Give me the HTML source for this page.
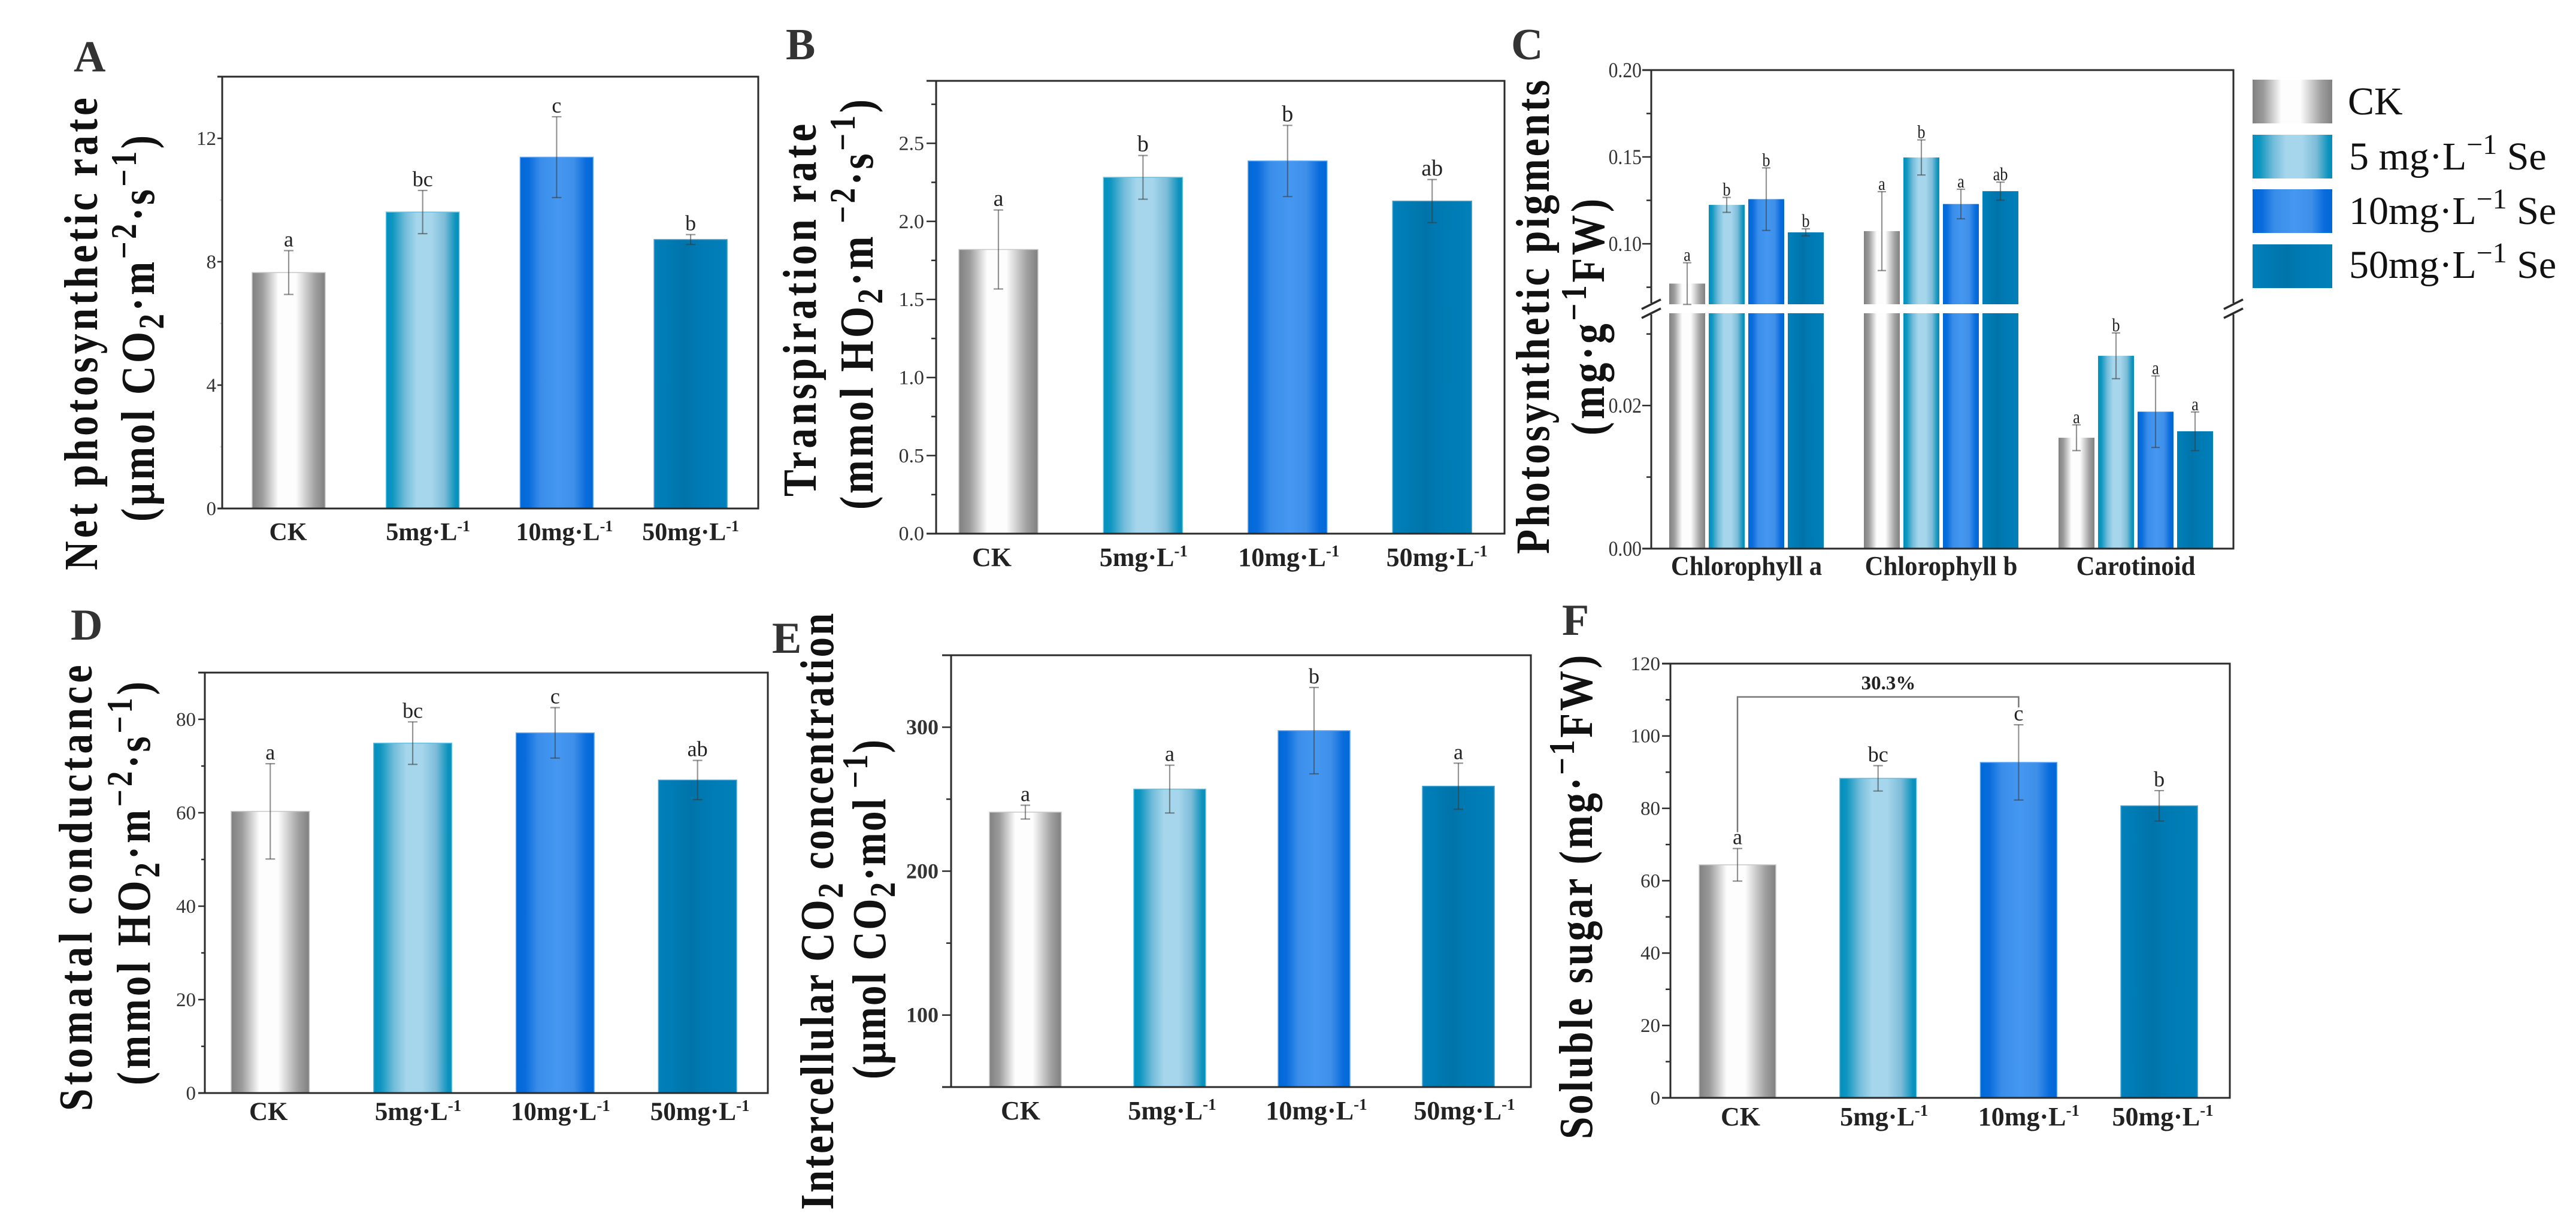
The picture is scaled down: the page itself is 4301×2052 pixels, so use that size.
<!DOCTYPE html>
<html lang="en">
<head>
<meta charset="utf-8">
<title>Selenium effects on photosynthesis</title>
<style>
html,body{margin:0;padding:0;background:#fff}
svg{display:block}
text{font-family:"Liberation Serif",serif}
.t{font-weight:bold;font-size:79px;fill:#111}
.p{font-weight:bold;font-size:74px;fill:#333}
.l{font-size:66px;fill:#111}
</style>
</head>
<body>
<svg id="fig" xmlns="http://www.w3.org/2000/svg" width="4301" height="2052" viewBox="0 0 4301 2052">
<defs>
<linearGradient id="g0"><stop offset="0" stop-color="#808080"/><stop offset=".14" stop-color="#9c9c9c"/><stop offset=".36" stop-color="#fdfdfd"/><stop offset=".6" stop-color="#fdfdfd"/><stop offset=".86" stop-color="#a0a0a0"/><stop offset="1" stop-color="#808080"/></linearGradient>
<linearGradient id="g1"><stop offset="0" stop-color="#0090bf"/><stop offset=".09" stop-color="#0e96c0"/><stop offset=".26" stop-color="#72bcda"/><stop offset=".42" stop-color="#a6d6ec"/><stop offset=".62" stop-color="#a6d6ec"/><stop offset=".8" stop-color="#7dbcd8"/><stop offset=".95" stop-color="#0d93bd"/><stop offset="1" stop-color="#0090bd"/></linearGradient>
<linearGradient id="g2"><stop offset="0" stop-color="#0068d8"/><stop offset=".12" stop-color="#0a6cdc"/><stop offset=".28" stop-color="#3a8eea"/><stop offset=".52" stop-color="#4597f0"/><stop offset=".74" stop-color="#3d8fe8"/><stop offset=".9" stop-color="#0a6cdc"/><stop offset="1" stop-color="#0068d8"/></linearGradient>
<linearGradient id="g3"><stop offset="0" stop-color="#0180ba"/><stop offset=".42" stop-color="#0074aa"/><stop offset=".58" stop-color="#0079b2"/><stop offset="1" stop-color="#0180ba"/></linearGradient>
</defs>
<rect width="4301" height="2052" fill="#fff"/>

<text class="p" x="123" y="119">A</text>
<text class="p" x="1312" y="99">B</text>
<text class="p" x="2523" y="99">C</text>
<text class="p" x="118" y="1068">D</text>
<text class="p" x="1289" y="1090">E</text>
<text class="p" x="2608" y="1060">F</text>

<text class="t" transform="translate(162,952) rotate(-90) scale(.85,1)" textLength="928" lengthAdjust="spacing">Net photosynthetic rate</text>
<text class="t" transform="translate(257,871) rotate(-90) scale(.85,1)" textLength="759" lengthAdjust="spacing">(μmol CO<tspan dy="16" font-size="60">2</tspan><tspan dy="-16">·m</tspan><tspan dy="-30" font-size="60">−2</tspan><tspan dy="30">·s</tspan><tspan dy="-30" font-size="60">−1</tspan><tspan dy="30">)</tspan></text>

<text class="t" transform="translate(1362,829) rotate(-90) scale(.85,1)" textLength="732" lengthAdjust="spacing">Transpiration rate</text>
<text class="t" transform="translate(1457,851) rotate(-90) scale(.85,1)" textLength="806" lengthAdjust="spacing">(mmol HO<tspan dy="16" font-size="60">2</tspan><tspan dy="-16">·m</tspan><tspan dy="-30" font-size="60"> −2</tspan><tspan dy="30">·s</tspan><tspan dy="-30" font-size="60">−1</tspan><tspan dy="30">)</tspan></text>

<text class="t" transform="translate(2586,925) rotate(-90) scale(.85,1)" textLength="931" lengthAdjust="spacing">Photosynthetic pigments</text>
<text class="t" transform="translate(2678,727) rotate(-90) scale(.85,1)" textLength="465" lengthAdjust="spacing">(mg·g<tspan dy="-30" font-size="60">−1</tspan><tspan dy="30">FW)</tspan></text>

<text class="t" transform="translate(153,1855) rotate(-90) scale(.85,1)" textLength="876" lengthAdjust="spacing">Stomatal conductance</text>
<text class="t" transform="translate(250,1812) rotate(-90) scale(.85,1)" textLength="793" lengthAdjust="spacing">(mmol HO<tspan dy="16" font-size="60">2</tspan><tspan dy="-16">·m</tspan><tspan dy="-30" font-size="60">−2</tspan><tspan dy="30">·s</tspan><tspan dy="-30" font-size="60">−1</tspan><tspan dy="30">)</tspan></text>

<text class="t" transform="translate(1391,2020) rotate(-90) scale(.85,1)" textLength="1172" lengthAdjust="spacing">Intercellular  CO<tspan dy="16" font-size="60">2</tspan><tspan dy="-16"> concentration</tspan></text>
<text class="t" transform="translate(1478,1802) rotate(-90) scale(.85,1)" textLength="667" lengthAdjust="spacing">(μmol CO<tspan dy="16" font-size="60">2</tspan><tspan dy="-16">·mol</tspan><tspan dy="-30" font-size="60"> −1</tspan><tspan dy="30">)</tspan></text>

<text class="t" transform="translate(2658,1902) rotate(-90) scale(.85,1)" textLength="951" lengthAdjust="spacing">Soluble sugar (mg·<tspan dy="-30" font-size="60">−1</tspan><tspan dy="30">FW)</tspan></text>

<g id="legend">
<rect x="3761" y="133" width="133" height="73" fill="url(#g0)"/>
<rect x="3761" y="225" width="133" height="73" fill="url(#g1)"/>
<rect x="3761" y="316" width="133" height="73" fill="url(#g2)"/>
<rect x="3761" y="408" width="133" height="73" fill="url(#g3)"/>
<text class="l" x="3920" y="191">CK</text>
<text class="l" x="3922" y="283">5 mg·L<tspan dy="-26" font-size="48">−1</tspan><tspan dy="26"> Se</tspan></text>
<text class="l" x="3922" y="374">10mg·L<tspan dy="-26" font-size="48">−1</tspan><tspan dy="26"> Se</tspan></text>
<text class="l" x="3922" y="464">50mg·L<tspan dy="-26" font-size="48">−1</tspan><tspan dy="26"> Se</tspan></text>
</g>
</svg>

<script>
const doseLabels = ['CK', '5mg·L', '10mg·L', '50mg·L'];

const aValues = [7.65, 9.61, 11.39, 8.72];
const aErrors = [0.71, 0.70, 1.31, 0.16];
const aLetters = ['a', 'bc', 'c', 'b'];
const aTicks = [0, 4, 8, 12];

const bValues = [1.82, 2.282, 2.387, 2.13];
const bErrors = [0.253, 0.14, 0.228, 0.138];
const bLetters = ['a', 'b', 'b', 'ab'];
const bTicks = ['0.0', '0.5', '1.0', '1.5', '2.0', '2.5'];

const dValues = [60.3, 74.9, 77.1, 67];
const dErrors = [10.2, 4.55, 5.4, 4.2];
const dLetters = ['a', 'bc', 'c', 'ab'];
const dTicks = [0, 20, 40, 60, 80];

const eValues = [241, 257, 297.6, 259];
const eErrors = [4.8, 16.6, 30, 16];
const eLetters = ['a', 'a', 'b', 'a'];
const eTicks = [100, 200, 300];

const fValues = [64.4, 88.3, 92.7, 80.7];
const fErrors = [4.5, 3.5, 10.4, 4.2];
const fLetters = ['a', 'bc', 'c', 'b'];
const fTicks = [0, 20, 40, 60, 80, 100, 120];

const pigmentCategories = ['Chlorophyll a', 'Chlorophyll b', 'Carotinoid'];
const chlAValues = [0.0771, 0.1224, 0.1257, 0.1066];
const chlAErrors = [0.012, 0.0043, 0.018, 0.002];
const chlALetters = ['a', 'b', 'b', 'b'];
const chlBValues = [0.1073, 0.1497, 0.1229, 0.1303];
const chlBErrors = [0.0227, 0.0101, 0.0085, 0.0052];
const chlBLetters = ['a', 'b', 'a', 'ab'];
const carValues = [0.0155, 0.02695, 0.01914, 0.0164];
const carErrors = [0.0018, 0.0032, 0.005, 0.0027];
const carLetters = ['a', 'b', 'a', 'a'];
const cTicks = ['0.00', '0.02', '0.10', '0.15', '0.20'];

const svg = document.getElementById('fig');
const NS = 'http://www.w3.org/2000/svg';
const axisColor = '#2b2b2b';
const outline = ['#c8c8c8', '#62c0de', '#62a8f6', '#4aa2d0'];

function mk(parent, tag, attrs) {
  const el = document.createElementNS(NS, tag);
  for (const k in attrs) el.setAttribute(k, attrs[k]);
  parent.appendChild(el);
  return el;
}

function axisLine(parent, x1, y1, x2, y2, w, name) {
  const el = mk(parent, 'line', {x1, y1, x2, y2, stroke: axisColor, 'stroke-width': w});
  
  
  return el;
}

function label(parent, x, y, size, str, anchor, weight, fill, name, sx) {
  const k = sx || 1;
  const el = mk(parent, 'text', {
    transform: 'translate(' + x + ',' + y + ') scale(' + k + ',1)',
    'font-size': size, 'text-anchor': anchor, 'font-weight': weight, fill
  });
  el.textContent = str;
  
  
  return el;
}

function doseLabel(parent, cx, y, size, str, fill) {
  const el = mk(parent, 'text', {x: cx, y, 'font-size': size, 'text-anchor': 'middle', 'font-weight': 'bold', fill});
  el.appendChild(document.createTextNode(str));
  
  
  if (str !== 'CK') {
    const s = mk(el, 'tspan', {dy: -Math.round(size * 0.36), 'font-size': Math.round(size * 0.62)});
    s.textContent = '-1';
  }
  return el;
}

function errorBar(parent, cx, yHi, yLo, cap) {
  const g = mk(parent, 'g', {stroke: '#3a3a3a', 'stroke-opacity': 0.55, 'stroke-width': 2.2, fill: 'none'});
  
  
  mk(g, 'line', {x1: cx, y1: yHi, x2: cx, y2: yLo});
  mk(g, 'line', {x1: cx - cap, y1: yHi, x2: cx + cap, y2: yHi});
  mk(g, 'line', {x1: cx - cap, y1: yLo, x2: cx + cap, y2: yLo});
}

function drawBarPanel(o) {
  const g = mk(svg, 'g', {});
  
  
  const y = v => o.bottom - (v - o.yMin) / (o.yMax - o.yMin) * (o.bottom - o.top);

  o.values.forEach((v, i) => {
    const x = o.barStart + i * o.barStep;
    const bar = mk(g, 'rect', {x, y: y(v), width: o.barWidth, height: o.bottom - y(v), fill: 'url(#g' + i + ')', stroke: outline[i], 'stroke-width': 1.5});
    
    
  });

  axisLine(g, o.left - o.majorLen, o.top, o.right + 1.5, o.top, o.axisW, 'top-axis');
  axisLine(g, o.left - o.majorLen, o.bottom, o.right + 1.5, o.bottom, o.axisW, 'x-axis');
  axisLine(g, o.left, o.top, o.left, o.bottom, o.axisW, 'y-axis');
  axisLine(g, o.right, o.top, o.right, o.bottom, o.axisW, 'right-axis');

  o.ticks.forEach(t => {
    const n = parseFloat(t);
    axisLine(g, o.left - o.majorLen, y(n), o.left, y(n), 2.5, 'y-tick');
    label(g, o.labelRight, y(n) + o.tickSize * 0.33, o.tickSize, String(t), 'end', o.tickWeight, '#333', 'y-tick-label');
  });
  for (let m = o.yMin + o.minorOffset; m < o.yMax; m += o.minorStep) {
    const el = axisLine(g, o.left - o.minorLen, y(m), o.left, y(m), 2.5, 'y-minor-tick');
    el.setAttribute('stroke-opacity', o.minorOpacity);
  }

  o.values.forEach((v, i) => {
    const cx = o.barStart + i * o.barStep + o.barWidth / 2;
    const e = o.errors[i];
    errorBar(g, cx, y(v + e), y(v - e), 8);
    label(g, cx, y(v + e) - 7, o.letterSize, o.letters[i], 'middle', 'normal', '#222', 'significance-letter');
    doseLabel(g, cx + o.labelShift[i], o.labelY, o.labelSize, doseLabels[i], '#222');
  });
  return {g, y};
}

drawBarPanel({id: 'a', values: aValues, errors: aErrors, letters: aLetters, ticks: aTicks,
  left: 371, right: 1266, top: 128, bottom: 849, yMin: 0, yMax: 14,
  barStart: 421, barStep: 223.7, barWidth: 122, majorLen: 8, minorLen: 4, minorStep: 4, minorOffset: 2, minorOpacity: 0.15,
  axisW: 3, labelRight: 361, tickSize: 33, tickWeight: 'normal', letterSize: 36, labelY: 902, labelSize: 42, labelShift: [-1, 9, 13, 0]});

drawBarPanel({id: 'b', values: bValues, errors: bErrors, letters: bLetters, ticks: bTicks,
  left: 1563, right: 2512, top: 135, bottom: 891, yMin: 0, yMax: 2.9,
  barStart: 1601, barStep: 241.4, barWidth: 132, majorLen: 16, minorLen: 8, minorStep: 0.5, minorOffset: 0.25, minorOpacity: 1,
  axisW: 3, labelRight: 1543, tickSize: 34, tickWeight: 'normal', letterSize: 38, labelY: 945, labelSize: 44, labelShift: [-11, 1, 2, 8]});

drawBarPanel({id: 'd', values: dValues, errors: dErrors, letters: dLetters, ticks: dTicks,
  left: 342, right: 1282, top: 1123, bottom: 1825, yMin: 0, yMax: 90,
  barStart: 386, barStep: 237.8, barWidth: 130.5, majorLen: 11, minorLen: 6, minorStep: 20, minorOffset: 10, minorOpacity: 1,
  axisW: 3, labelRight: 327, tickSize: 33, tickWeight: 'normal', letterSize: 36, labelY: 1870, labelSize: 43, labelShift: [-3, 9, 9, 4]});

drawBarPanel({id: 'e', values: eValues, errors: eErrors, letters: eLetters, ticks: eTicks,
  left: 1588, right: 2556, top: 1094, bottom: 1815, yMin: 50, yMax: 350,
  barStart: 1652, barStep: 241, barWidth: 120, majorLen: 15, minorLen: 8, minorStep: 100, minorOffset: 100, minorOpacity: 1,
  axisW: 3, labelRight: 1567, tickSize: 36, tickWeight: 'bold', letterSize: 36, labelY: 1869, labelSize: 44, labelShift: [-8, 4, 4, 10]});

const panelF = drawBarPanel({id: 'f', values: fValues, errors: fErrors, letters: fLetters, ticks: fTicks,
  left: 2789, right: 3723, top: 1108, bottom: 1833, yMin: 0, yMax: 120,
  barStart: 2837, barStep: 234.7, barWidth: 128, majorLen: 14, minorLen: 8, minorStep: 20, minorOffset: 10, minorOpacity: 1,
  axisW: 3, labelRight: 2772, tickSize: 33, tickWeight: 'normal', letterSize: 36, labelY: 1879, labelSize: 44, labelShift: [5, 10, 17, 6]});

const bracketLevels = [73.4, 110.8, 107.9];
const bracketLabel = ['30.3%'];
(function () {
  const y = panelF.y;
  const xL = 2837 + 64;
  const xR = 2837 + 2 * 234.7 + 64;
  const p = mk(panelF.g, 'path', {
    d: 'M' + xL + ' ' + y(bracketLevels[0]) + 'V' + y(bracketLevels[1]) + 'H' + xR + 'V' + y(bracketLevels[2]),
    fill: 'none', stroke: '#777', 'stroke-width': 2.5
  });
  
  
  label(panelF.g, 3153, 1151, 33, bracketLabel[0], 'middle', 'bold', '#222', 'bracket-percent-label');
})();

(function drawPigments() {
  const g = mk(svg, 'g', {});
  
  
  const left = 2757, right = 3729, top = 117, bottom = 916;
  const breakHigh = 508, breakLow = 523;
  const lowerMax = 0.0329, upperMin = 0.0652, upperMax = 0.2;
  const y = v => v <= lowerMax
    ? bottom - v / lowerMax * (bottom - breakLow)
    : breakHigh - (v - upperMin) / (upperMax - upperMin) * (breakHigh - top);
  const groupStart = 2787, groupStep = 325, barStep = 66, barW = 60;
  const groups = [[chlAValues, chlAErrors, chlALetters], [chlBValues, chlBErrors, chlBLetters], [carValues, carErrors, carLetters]];

  groups.forEach((grp, gi) => {
    grp[0].forEach((v, i) => {
      const x = groupStart + gi * groupStep + i * barStep;
      const lowTop = v > lowerMax ? breakLow : y(v);
      const lo = mk(g, 'rect', {x, y: lowTop, width: barW, height: bottom - lowTop, fill: 'url(#g' + i + ')'});
      
      
      if (v > lowerMax) {
        const up = mk(g, 'rect', {x, y: y(v), width: barW, height: breakHigh - y(v), fill: 'url(#g' + i + ')'});
        
        
      }
    });
  });

  axisLine(g, left - 15, top, right + 1.5, top, 3, 'top-axis');
  axisLine(g, left - 15, bottom, right + 1.5, bottom, 3, 'x-axis');
  [left, right].forEach(x => {
    axisLine(g, x, top, x, breakHigh - 2, 3, 'y-axis-upper');
    axisLine(g, x, breakLow + 2, x, bottom, 3, 'y-axis-lower');
    axisLine(g, x - 16, breakHigh + 8, x + 16, breakHigh - 8, 3.5, 'axis-break-mark');
    axisLine(g, x - 16, breakLow + 8, x + 16, breakLow - 8, 3.5, 'axis-break-mark');
  });

  cTicks.forEach(t => {
    const n = parseFloat(t);
    axisLine(g, left - 15, y(n), left, y(n), 2.5, 'y-tick');
    label(g, 2741, y(n) + 12, 36, t, 'end', 'normal', '#333', 'y-tick-label', 0.88);
  });
  [0.01, 0.03, 0.075, 0.125, 0.175].forEach(m => {
    axisLine(g, left - 8, y(m), left, y(m), 2.5, 'y-minor-tick');
  });

  groups.forEach((grp, gi) => {
    grp[0].forEach((v, i) => {
      const cx = groupStart + gi * groupStep + i * barStep + barW / 2;
      const e = grp[1][i];
      errorBar(g, cx, y(v + e), y(v - e), 7);
      label(g, cx, y(v + e) - 3, 31, grp[2][i], 'middle', 'normal', '#222', 'significance-letter', 0.85);
    });
    const cx = groupStart + gi * groupStep + 1.5 * barStep + barW / 2 + 0;
    label(g, cx, 960, 46, pigmentCategories[gi], 'middle', 'bold', '#222', 'x-tick-label', 0.93);
  });
})();
</script>
</body>
</html>
